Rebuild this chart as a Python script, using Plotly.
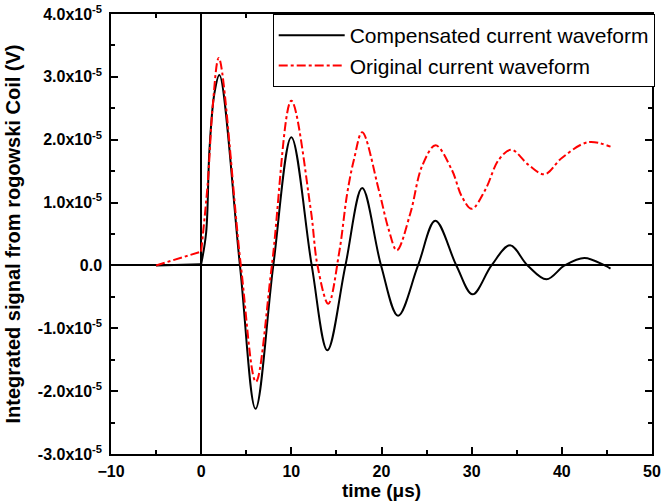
import plotly.graph_objects as go

# Compensated current waveform (black, solid) -- values in units of 1e-5 V
comp_t = [-5, 0, 0.55, 0.92, 1.47, 2.02, 4.3, 6.03, 8.0, 10.0, 12.26, 14.0, 16.0, 17.86,
          19.95, 21.84, 24.05, 25.97, 28.3, 30.1, 32.2, 34.25, 36.2, 38.3, 40.3, 42.5, 44.75, 45.4]
comp_v = [0, 0.02, 0.52, 1.84, 2.74, 3.03, 0, -2.28, 0, 2.04, 0, -1.35, 0, 1.23,
          0, -0.80, 0, 0.71, 0, -0.46, 0, 0.32, 0, -0.22, 0, 0.12, 0, -0.05]

# Original current waveform (red, dash-dot) -- values in units of 1e-5 V
orig_t = [-5, 0, 0.73, 1.28, 1.95, 4.4, 6.07, 7.84, 10.0, 12.15, 12.9, 14.1, 15.3, 16.2, 16.94,
          17.86, 19.7, 20.8, 21.7, 23.2, 24.5, 26.0, 27.8, 28.9, 30.0, 31.5, 33.0, 34.4,
          36.3, 38.1, 40.0, 42.9, 45.4]
orig_v = [0, 0.22, 1.31, 2.53, 3.30, 0, -1.85, 0, 2.62, 0.89, 0, -0.61, 0.2, 1.15, 1.68,
          2.12, 1.2, 0.57, 0.24, 0.83, 1.58, 1.91, 1.52, 1.10, 0.90, 1.2, 1.68, 1.84,
          1.6, 1.45, 1.71, 1.96, 1.89]

scale = 1e-5
y_ticks = [-3, -2, -1, 0, 1, 2, 3, 4]
y_ticktext = [("0.0" if v == 0 else f"{v:.1f}x10<sup>-5</sup>") for v in y_ticks]
x_ticks = [-10, 0, 10, 20, 30, 40, 50]

FONT = "Liberation Sans, Arial, sans-serif"
RED = "#ff0000"

fig = go.Figure()
# pre-trigger part (straight segment, first two points) and oscillation part (smooth)
fig.add_trace(go.Scatter(
    x=comp_t[:2], y=[v * scale for v in comp_v[:2]], mode="lines",
    line=dict(color="black", width=2), showlegend=False, hoverinfo="skip",
))
fig.add_trace(go.Scatter(
    x=comp_t[1:], y=[v * scale for v in comp_v[1:]], mode="lines",
    name="Compensated current waveform",
    line=dict(color="black", width=2, shape="spline", smoothing=1.0),
))
fig.add_trace(go.Scatter(
    x=orig_t[:2], y=[v * scale for v in orig_v[:2]], mode="lines",
    line=dict(color=RED, width=2, dash="dashdot"), showlegend=False, hoverinfo="skip",
))
fig.add_trace(go.Scatter(
    x=orig_t[1:], y=[v * scale for v in orig_v[1:]], mode="lines",
    name="Original current waveform",
    line=dict(color=RED, width=2, dash="dashdot", shape="spline", smoothing=1.0),
))

axis_common = dict(
    showline=True, linecolor="black", linewidth=1.5, mirror="allticks",
    ticks="inside", ticklen=7, tickwidth=1.5, tickcolor="black",
    showgrid=False, zeroline=True, zerolinecolor="black", zerolinewidth=1.5,
    automargin=False,
    tickfont=dict(family=FONT, size=16, color="black", weight="bold"),
)

fig.update_layout(
    width=666, height=503,
    margin=dict(l=111, r=11, t=14, b=49),
    paper_bgcolor="white", plot_bgcolor="white",
    showlegend=True,
    legend=dict(
        x=1.005, y=1.0, xanchor="right", yanchor="top",
        bgcolor="white", bordercolor="black", borderwidth=1,
        font=dict(family=FONT, size=21, color="black"),
        tracegroupgap=0, itemwidth=66,
    ),
    xaxis=dict(
        range=[-10, 50], tickvals=x_ticks,
        minor=dict(dtick=5, tick0=0, ticks="inside", ticklen=4, tickwidth=1.5, tickcolor="black"),
        title=dict(text="time (\u03bcs)", font=dict(family=FONT, size=19, color="black", weight="bold"), standoff=2),
        ticklabelstandoff=2,
        **axis_common,
    ),
    yaxis=dict(
        range=[-3e-5, 4e-5], tickvals=[v * scale for v in y_ticks], ticktext=y_ticktext,
        minor=dict(dtick=0.5e-5, tick0=0, ticks="inside", ticklen=4, tickwidth=1.5, tickcolor="black"),
        title=dict(text="Integrated signal from rogowski Coil (V)", font=dict(family=FONT, size=20, color="black", weight="bold"), standoff=12),
        ticklabelstandoff=4,
        **axis_common,
    ),
)

fig.write_html(
    "out.html",
    config={"displayModeBar": False},
    post_script="document.body.style.margin='0';document.body.style.padding='0';",
)
